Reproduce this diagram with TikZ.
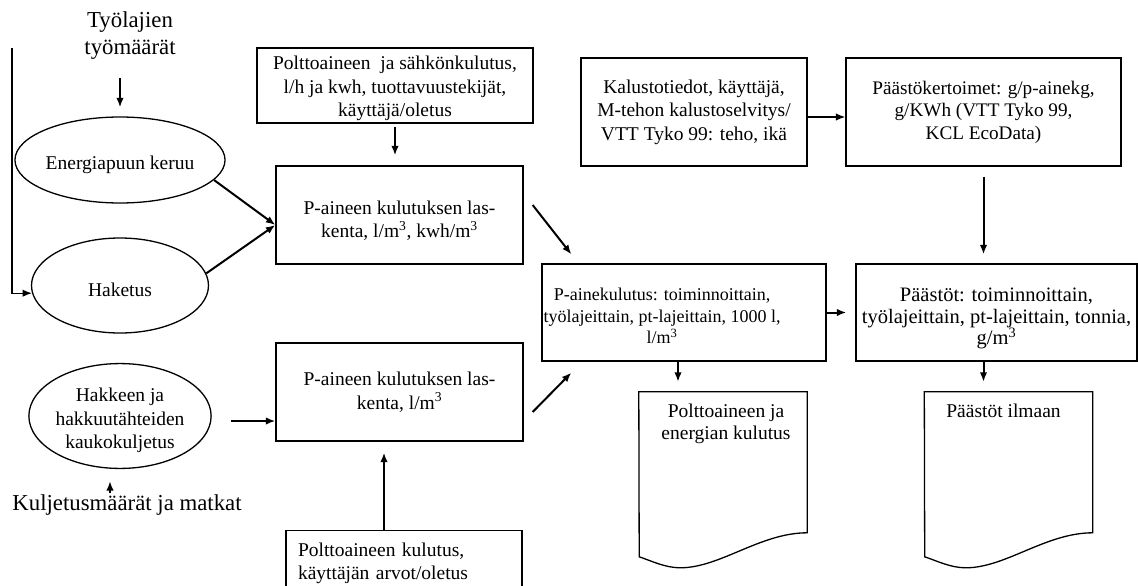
\documentclass[tikz,border=0pt]{standalone}
\usepackage{fontspec}
\setmainfont{Liberation Serif}
\usetikzlibrary{shapes.geometric,arrows.meta}

\begin{document}
\begin{tikzpicture}[x=1pt, y=-1pt,
    box/.style={draw, line width=1.3pt, align=center, inner sep=2pt, font=\fontsize{19.5}{23.5}\selectfont},
    oval/.style={draw, ellipse, line width=1.3pt, align=center, inner sep=0pt, minimum width=177pt, font=\fontsize{19.5}{23.5}\selectfont},
    big/.style={align=center, inner sep=0pt, font=\fontsize{22.8}{27}\selectfont},
    txt/.style={align=center, inner sep=0pt, font=\fontsize{19.5}{22}\selectfont},
    doc/.style={minimum width=168pt, minimum height=176pt, inner sep=0pt},
    arr/.style={-{Latex[length=9.5pt,width=7.5pt]}, line width=2pt}]

    \useasboundingbox (0,0) rectangle (1138,586);
    \clip (0,0) rectangle (1138,586);

    %inputs
    \node[big] (tyo) at (130,36) {Työlajien\\työmäärät};
    \node[big] (kulj) at (127,505) {Kuljetusmäärät ja matkat};
    \coordinate (loop) at (12,48);

    %work phases
    \node[oval, minimum height=86pt] (keruu) at (120,160) {\rule{0pt}{23pt}Energiapuun keruu};
    \node[oval, minimum height=95pt] (haketus) at (120,285.5) {\rule{0pt}{23pt}Haketus};
    \node[oval, minimum height=88pt] (hake) at (120,416) {\rule{0pt}{23pt}Hakkeen ja\\hakkuutähteiden\\kaukokuljetus};

    %boxes
    \node[box, minimum width=276pt, minimum height=75pt] (polt) at (395,85.5) {\rule{0pt}{20pt}Polttoaineen\ \ ja sähkönkulutus,\\l/h ja kwh, tuottavuustekijät,\\käyttäjä/oletus};
    \node[box, minimum width=247pt, minimum height=98pt] (p1) at (399.5,215) {\rule{0pt}{25pt}P-aineen kulutuksen las-\\kenta, l/m\textsuperscript{3}, kwh/m\textsuperscript{3}};
    \node[box, minimum width=247pt, minimum height=98pt] (p2) at (399.5,392) {P-aineen kulutuksen las-\\kenta, l/m\textsuperscript{3}};
    \node[box, anchor=north, text width=212pt, align=left, inner xsep=12pt, inner ysep=12pt, text depth=60pt] (kul) at (404,530) {Polttoaineen kulutus,\\käyttäjän arvot/oletus};
    \node[box, minimum width=284pt, minimum height=97pt] (pkul) at (684,312.5) {};
    \node[txt, font=\fontsize{18}{21.5}\selectfont] (pkultxt) at (662,316) {P-ainekulutus: toiminnoittain,\\työlajeittain, pt-lajeittain, 1000 l,\\l/m\textsuperscript{3}};
    \node[box, minimum width=226pt, minimum height=108pt] (kal) at (694,112) {Kalustotiedot, käyttäjä,\\M-tehon kalustoselvitys/\\VTT Tyko 99: teho, ikä};
    \node[box, minimum width=275pt, minimum height=108pt, font=\fontsize{19.2}{22.5}\selectfont] (faktor) at (983.5,112) {Päästökertoimet: g/p-ainekg,\\g/KWh (VTT Tyko 99,\\KCL EcoData)};
    \node[box, minimum width=281pt, minimum height=97pt, inner sep=1pt, font=\fontsize{20.5}{21.5}\selectfont] (paast) at (996.5,312.5) {\rule{0pt}{26pt}Päästöt: toiminnoittain,\\työlajeittain, pt-lajeittain, tonnia,\\g/m\textsuperscript{3}};

    %documents
    \node[doc] (fuel) at (723,480) {};
    \node[doc] (air) at (1008.5,480) {};
    \foreach \d in {fuel,air}
        \draw[line width=1.3pt] (\d.north west) -- (\d.north east) -- ++(0,141)
            .. controls +(-47,0) and +(40,0) .. ++(-127,35)
            .. controls +(-15,0) and +(12,4) .. ++(-41,-11) -- cycle;
    \node[txt, anchor=north] (fueltxt) at ([shift={(3pt,-12pt)}]fuel.north) {Polttoaineen ja\\energian kulutus};
    \node[txt, anchor=north] (airtxt) at ([shift={(-5pt,-12pt)}]air.north) {Päästöt ilmaan};

    %connectors
    \draw[arr, shorten <=18pt, shorten >=9pt] (tyo.south -| keruu.north) -- (keruu.north);
    \draw[arr, line width=1.4pt] (loop) |- (haketus.185);
    \draw[arr] (keruu.-12) -- ([yshift=-10pt]p1.west);
    \draw[arr] (haketus.8) -- ([yshift=-10pt]p1.west);
    \draw[arr, shorten <=19pt] ([yshift=-29pt]p2.west -| hake.east) -- ([yshift=-29pt]p2.west);
    \draw[arr, shorten <=1pt, shorten >=12pt] ([xshift=-10pt]hake.south |- kulj.north) -- ([xshift=-10pt]hake.south);
    \draw[arr, shorten <=3pt, shorten >=10pt] (polt.south) -- (polt.south |- p1.north);
    \draw[arr, shorten >=11pt] ([xshift=-20pt]kul.north) -- ([xshift=-20pt]kul.north |- p2.south);
    \draw[arr] ([shift={(9pt,10pt)}]p1.east) -- ([shift={(30pt,9pt)}]pkul.north west);
    \draw[arr] ([shift={(9pt,-20pt)}]p2.east) -- ([shift={(30pt,-11pt)}]pkul.south west);
    \draw[arr, line width=1.5pt] ([yshift=-5pt]kal.east) -- ([yshift=-5pt]faktor.west);
    \draw[arr, shorten <=10pt, shorten >=9pt] (faktor.south) -- (faktor.south |- paast.north);
    \draw[arr, shorten >=9pt] (pkul.east) -- (paast.west);
    \draw[arr, shorten >=10pt] ([xshift=-6pt]pkul.south) -- ([xshift=-6pt]pkul.south |- fuel.north);
    \draw[arr, shorten >=10pt] ([xshift=-13pt]paast.south) -- ([xshift=-13pt]paast.south |- air.north);
\end{tikzpicture}
\end{document}
